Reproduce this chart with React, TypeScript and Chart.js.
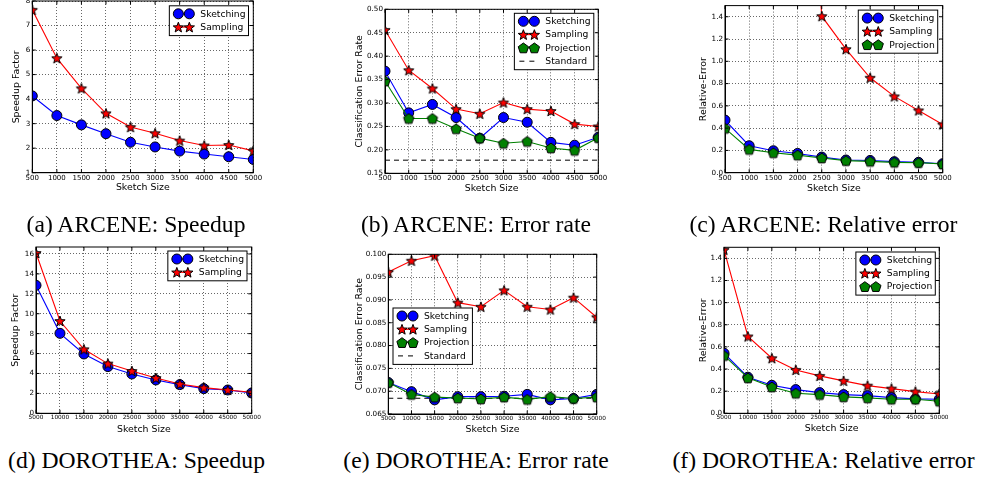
import React, { useEffect, useRef } from "react";
import { Chart, registerables } from "chart.js";

Chart.register(...registerables);

// ---------------- DATA ----------------
const arceneSizes = [500, 1000, 1500, 2000, 2500, 3000, 3500, 4000, 4500, 5000];
const dorotheaSizes = [5000, 10000, 15000, 20000, 25000, 30000, 35000, 40000, 45000, 50000];

const arceneSpeedupSketching = [4.13, 3.33, 2.95, 2.59, 2.24, 2.05, 1.88, 1.76, 1.65, 1.54];
const arceneSpeedupSampling = [7.64, 5.67, 4.44, 3.42, 2.86, 2.61, 2.31, 2.11, 2.13, 1.89];

const arceneErrSketching = [0.368, 0.279, 0.297, 0.269, 0.225, 0.269, 0.259, 0.216, 0.21, 0.227];
const arceneErrSampling = [0.456, 0.37, 0.331, 0.287, 0.277, 0.301, 0.287, 0.283, 0.255, 0.25];
const arceneErrProjection = [0.347, 0.267, 0.267, 0.245, 0.225, 0.214, 0.218, 0.204, 0.199, 0.226];
const arceneErrStandard = 0.178;

const arceneRelSketching = [0.472, 0.242, 0.197, 0.173, 0.14, 0.114, 0.11, 0.099, 0.093, 0.081];
const arceneRelSampling = [30, 15, 8, 4.5, 1.405, 1.109, 0.852, 0.685, 0.559, 0.433];
const arceneRelProjection = [0.398, 0.209, 0.179, 0.158, 0.132, 0.108, 0.102, 0.093, 0.09, 0.078];

const dorSpeedupSketching = [12.85, 8.03, 5.96, 4.69, 3.95, 3.35, 2.88, 2.48, 2.34, 2.04];
const dorSpeedupSampling = [16.1, 9.27, 6.43, 4.99, 4.25, 3.55, 2.95, 2.58, 2.34, 2.11];

const dorErrSketching = [0.0719, 0.0699, 0.0681, 0.0688, 0.0688, 0.0689, 0.0693, 0.0681, 0.0684, 0.0693];
const dorErrSampling = [0.0961, 0.0986, 0.0997, 0.0894, 0.0885, 0.0921, 0.0885, 0.0879, 0.0905, 0.0862];
const dorErrProjection = [0.0719, 0.0693, 0.0687, 0.0685, 0.0683, 0.0687, 0.0682, 0.0688, 0.0684, 0.0687];
const dorErrStandard = 0.06845;

const dorRelSketching = [0.543, 0.326, 0.253, 0.214, 0.187, 0.169, 0.16, 0.142, 0.13, 0.127];
const dorRelSampling = [1.478, 0.694, 0.498, 0.392, 0.338, 0.293, 0.25, 0.223, 0.196, 0.175];
const dorRelProjection = [0.522, 0.32, 0.238, 0.181, 0.169, 0.148, 0.139, 0.127, 0.127, 0.109];

const speedupTicksA = [1, 2, 3, 4, 5, 6, 7, 8];
const errTicksB = [0.15, 0.2, 0.25, 0.3, 0.35, 0.4, 0.45, 0.5];
const relTicks = [0, 0.2, 0.4, 0.6, 0.8, 1.0, 1.2, 1.4];
const speedupTicksD = [0, 2, 4, 6, 8, 10, 12, 14, 16];
const errTicksE = [0.065, 0.07, 0.075, 0.08, 0.085, 0.09, 0.095, 0.1];

const captions = [
  "(a) ARCENE: Speedup",
  "(b) ARCENE: Error rate",
  "(c) ARCENE: Relative error",
  "(d) DOROTHEA: Speedup",
  "(e) DOROTHEA: Error rate",
  "(f) DOROTHEA: Relative error",
];

// ---------------- STYLE ----------------
const BLUE = "#0000ff";
const RED = "#ff0000";
const GREEN = "#008000";
const SANS = "'DejaVu Sans', sans-serif";
const TICK_SIZE = 7.2;
const TITLE_SIZE = 9.4;
const LEGEND_SIZE = 9.2;
const TITLE_LH = TITLE_SIZE * 1.2;

type Kind = "circle" | "star" | "pentagon" | "dash";

function drawMarker(ctx: CanvasRenderingContext2D, kind: Kind, x: number, y: number, color: string) {
  ctx.save();
  ctx.fillStyle = color;
  ctx.strokeStyle = "#000";
  ctx.lineWidth = 1;
  ctx.beginPath();
  if (kind === "circle") {
    ctx.arc(x, y, 5, 0, Math.PI * 2);
  } else if (kind === "star") {
    const R = 5.4;
    const r = R * 0.42;
    for (let k = 0; k < 10; k++) {
      const rad = k % 2 ? r : R;
      const a = -Math.PI / 2 + (k * Math.PI) / 5;
      const px = x + rad * Math.cos(a);
      const py = y + rad * Math.sin(a) + 0.5;
      if (k === 0) ctx.moveTo(px, py);
      else ctx.lineTo(px, py);
    }
    ctx.closePath();
  } else if (kind === "pentagon") {
    const R = 5.4;
    for (let k = 0; k < 5; k++) {
      const a = -Math.PI / 2 + (k * 2 * Math.PI) / 5;
      const px = x + R * Math.cos(a);
      const py = y + R * Math.sin(a) + 0.5;
      if (k === 0) ctx.moveTo(px, py);
      else ctx.lineTo(px, py);
    }
    ctx.closePath();
  }
  ctx.fill();
  ctx.stroke();
  ctx.restore();
}

function markerImage(kind: Kind, color: string) {
  const c = document.createElement("canvas");
  c.width = 16;
  c.height = 16;
  const ctx = c.getContext("2d");
  if (ctx) drawMarker(ctx, kind, 8, 8, color);
  return c;
}

type Series = { label: string; kind: Kind; color: string; values?: number[]; constant?: number };

type PanelCfg = {
  xs: number[];
  xTickSize: number;
  series: Series[];
  yMin: number;
  yMax: number;
  yTicks: number[];
  yDecimals: number;
  yTitle: string;
  plot: [number, number, number, number]; // L, T, R, B
  yTitleX: number;
  xTitleY: number;
  legend: { corner: "ne" | "w"; dx: number; dy: number };
};

const panels: PanelCfg[] = [
  {
    xs: arceneSizes,
    xTickSize: 7,
    series: [
      { label: "Sketching", kind: "circle", color: BLUE, values: arceneSpeedupSketching },
      { label: "Sampling", kind: "star", color: RED, values: arceneSpeedupSampling },
    ],
    yMin: 1, yMax: 8, yTicks: speedupTicksA, yDecimals: 0, yTitle: "Speedup Factor",
    plot: [32.3, 1.0, 253.3, 172.7], yTitleX: 16.7, xTitleY: 187.7,
    legend: { corner: "ne", dx: 4.8, dy: 4.8 },
  },
  {
    xs: arceneSizes,
    xTickSize: 7,
    series: [
      { label: "Sketching", kind: "circle", color: BLUE, values: arceneErrSketching },
      { label: "Sampling", kind: "star", color: RED, values: arceneErrSampling },
      { label: "Projection", kind: "pentagon", color: GREEN, values: arceneErrProjection },
      { label: "Standard", kind: "dash", color: "#000", constant: arceneErrStandard },
    ],
    yMin: 0.15, yMax: 0.5, yTicks: errTicksB, yDecimals: 2, yTitle: "Classification Error Rate",
    plot: [385, 9.3, 598.3, 173.3], yTitleX: 360, xTitleY: 188.3,
    legend: { corner: "ne", dx: 4.5, dy: 4 },
  },
  {
    xs: arceneSizes,
    xTickSize: 7,
    series: [
      { label: "Sketching", kind: "circle", color: BLUE, values: arceneRelSketching },
      { label: "Sampling", kind: "star", color: RED, values: arceneRelSampling },
      { label: "Projection", kind: "pentagon", color: GREEN, values: arceneRelProjection },
    ],
    yMin: 0, yMax: 1.5, yTicks: relTicks, yDecimals: 1, yTitle: "Relative-Error",
    plot: [725, 5.6, 942.7, 172.7], yTitleX: 703.3, xTitleY: 188.3,
    legend: { corner: "ne", dx: 5, dy: 4.5 },
  },
  {
    xs: dorotheaSizes,
    xTickSize: 5.8,
    series: [
      { label: "Sketching", kind: "circle", color: BLUE, values: dorSpeedupSketching },
      { label: "Sampling", kind: "star", color: RED, values: dorSpeedupSampling },
    ],
    yMin: 0, yMax: 16.7, yTicks: speedupTicksD, yDecimals: 0, yTitle: "Speedup Factor",
    plot: [36, 247, 251.7, 413.3], yTitleX: 16, xTitleY: 429.3,
    legend: { corner: "ne", dx: 4.7, dy: 4 },
  },
  {
    xs: dorotheaSizes,
    xTickSize: 5.8,
    series: [
      { label: "Sketching", kind: "circle", color: BLUE, values: dorErrSketching },
      { label: "Sampling", kind: "star", color: RED, values: dorErrSampling },
      { label: "Projection", kind: "pentagon", color: GREEN, values: dorErrProjection },
      { label: "Standard", kind: "dash", color: "#000", constant: dorErrStandard },
    ],
    yMin: 0.065, yMax: 0.1, yTicks: errTicksE, yDecimals: 3, yTitle: "Classification Error Rate",
    plot: [388.3, 254.3, 596.7, 414], yTitleX: 360, xTitleY: 429.3,
    legend: { corner: "w", dx: 4.7, dy: 53.7 },
  },
  {
    xs: dorotheaSizes,
    xTickSize: 5.8,
    series: [
      { label: "Sketching", kind: "circle", color: BLUE, values: dorRelSketching },
      { label: "Sampling", kind: "star", color: RED, values: dorRelSampling },
      { label: "Projection", kind: "pentagon", color: GREEN, values: dorRelProjection },
    ],
    yMin: 0, yMax: 1.5, yTicks: relTicks, yDecimals: 1, yTitle: "Relative-Error",
    plot: [724, 247.3, 939.3, 413.3], yTitleX: 703.3, xTitleY: 429,
    legend: { corner: "ne", dx: 4, dy: 4.7 },
  },
];

const captionCenters = [136, 476, 823.5, 136.5, 476, 823.5];
const captionBaselines = [233, 233, 233, 469, 469, 469];

function Panel({ cfg }: { cfg: PanelCfg }) {
  const ref = useRef<HTMLCanvasElement | null>(null);
  const [L, T, R, B] = cfg.plot;
  const axisLeft = cfg.yTitleX - TITLE_LH / 2;
  const axisBottom = cfg.xTitleY + TITLE_LH / 2;
  const cLeft = Math.floor(axisLeft);
  const cTop = Math.floor(T - 12);
  const cRight = Math.ceil(R + 22);
  const cBottom = Math.ceil(axisBottom);
  const w = cRight - cLeft;
  const h = cBottom - cTop;

  useEffect(() => {
    const canvas = ref.current;
    if (!canvas) return;
    const xs = cfg.xs;
    const datasets: any[] = cfg.series.map((s, i) => {
      if (s.kind === "dash") {
        return {
          label: s.label,
          data: [
            { x: xs[0], y: s.constant },
            { x: xs[xs.length - 1], y: s.constant },
          ],
          borderColor: "#000",
          borderWidth: 1,
          borderDash: [5, 4],
          pointRadius: 0,
          clip: 0,
          order: 10,
        };
      }
      const vals = s.values || [];
      return {
        label: s.label,
        data: xs.map((x, j) => ({ x, y: vals[j] })),
        borderColor: s.color,
        borderWidth: 1.1,
        backgroundColor: s.color,
        pointStyle: s.kind === "circle" ? "circle" : markerImage(s.kind, s.color),
        pointRadius: s.kind === "circle" ? 5 : 6,
        pointBackgroundColor: s.color,
        pointBorderColor: "#000",
        pointBorderWidth: 1,
        tension: 0,
        clip: 0,
        order: 5 - i,
      };
    });

    const decor = {
      id: "mplDecor",
      afterDraw(chart: any) {
        const ctx: CanvasRenderingContext2D = chart.ctx;
        const a = chart.chartArea;
        const xScale = chart.scales.x;
        const yScale = chart.scales.y;
        ctx.save();
        ctx.strokeStyle = "#000";
        ctx.lineWidth = 1;
        ctx.strokeRect(a.left, a.top, a.right - a.left, a.bottom - a.top);
        const tl = 3.5;
        ctx.beginPath();
        for (const v of xs) {
          const px = xScale.getPixelForValue(v);
          ctx.moveTo(px, a.bottom);
          ctx.lineTo(px, a.bottom - tl);
          ctx.moveTo(px, a.top);
          ctx.lineTo(px, a.top + tl);
        }
        for (const v of cfg.yTicks) {
          const py = yScale.getPixelForValue(v);
          ctx.moveTo(a.left, py);
          ctx.lineTo(a.left + tl, py);
          ctx.moveTo(a.right, py);
          ctx.lineTo(a.right - tl, py);
        }
        ctx.stroke();
        // legend
        ctx.font = `${LEGEND_SIZE}px ${SANS}`;
        const n = cfg.series.length;
        let maxW = 0;
        for (const s of cfg.series) maxW = Math.max(maxW, ctx.measureText(s.label).width);
        const rowH = 13.3;
        const bw = 31 + maxW + 3;
        const bh = 8 + (n - 1) * rowH + 8.5;
        let bx: number, by: number;
        if (cfg.legend.corner === "ne") {
          bx = a.right - cfg.legend.dx - bw;
          by = a.top + cfg.legend.dy;
        } else {
          bx = a.left + cfg.legend.dx;
          by = a.top + cfg.legend.dy;
        }
        ctx.fillStyle = "#fff";
        ctx.fillRect(bx, by, bw, bh);
        ctx.strokeStyle = "#000";
        ctx.lineWidth = 1;
        ctx.strokeRect(bx, by, bw, bh);
        cfg.series.forEach((s, i) => {
          const cy = by + 8 + i * rowH;
          const x1 = bx + 9;
          const x2 = bx + 20;
          ctx.save();
          if (s.kind === "dash") {
            ctx.strokeStyle = "#000";
            ctx.lineWidth = 1;
            ctx.setLineDash([5, 5]);
            ctx.beginPath();
            ctx.moveTo(bx + 5, cy);
            ctx.lineTo(bx + 24, cy);
            ctx.stroke();
          } else {
            ctx.strokeStyle = s.color;
            ctx.lineWidth = 1.1;
            ctx.beginPath();
            ctx.moveTo(x1, cy);
            ctx.lineTo(x2, cy);
            ctx.stroke();
            drawMarker(ctx, s.kind, x1, cy, s.color);
            drawMarker(ctx, s.kind, x2, cy, s.color);
          }
          ctx.restore();
          ctx.fillStyle = "#000";
          ctx.font = `${LEGEND_SIZE}px ${SANS}`;
          ctx.textBaseline = "middle";
          ctx.textAlign = "left";
          ctx.fillText(s.label, bx + 31, cy + 0.5);
        });
        ctx.restore();
      },
    };

    const gridOpts = { color: "rgba(0,0,0,0.75)", lineWidth: 0.8, drawTicks: false };
    const borderOpts = { display: true, color: "#000", width: 1, dash: [1, 2] };

    const chart = new Chart(canvas, {
      type: "line",
      data: { datasets },
      options: {
        responsive: false,
        animation: false,
        events: [],
        layout: {
          padding: {
            left: axisLeft - cLeft,
            top: T - cTop,
            right: cRight - R,
            bottom: cBottom - axisBottom,
          },
        },
        plugins: {
          legend: { display: false },
          tooltip: { enabled: false },
          title: { display: false },
        },
        scales: {
          x: {
            type: "linear",
            min: xs[0],
            max: xs[xs.length - 1],
            afterBuildTicks: (s: any) => {
              s.ticks = xs.map((v) => ({ value: v }));
            },
            afterFit: (s: any) => {
              s.height = axisBottom - B;
            },
            ticks: {
              autoSkip: false,
              maxRotation: 0,
              minRotation: 0,
              padding: 1,
              color: "#000",
              font: { family: SANS, size: cfg.xTickSize },
              callback: (v: any) => String(v),
            },
            grid: gridOpts,
            border: borderOpts,
            title: {
              display: true,
              text: "Sketch Size",
              color: "#000",
              padding: 0,
              font: { family: SANS, size: TITLE_SIZE, lineHeight: 1.2 },
            },
          },
          y: {
            type: "linear",
            min: cfg.yMin,
            max: cfg.yMax,
            afterBuildTicks: (s: any) => {
              s.ticks = cfg.yTicks.map((v) => ({ value: v }));
            },
            afterFit: (s: any) => {
              s.width = L - axisLeft;
            },
            ticks: {
              autoSkip: false,
              padding: 2,
              color: "#000",
              font: { family: SANS, size: TICK_SIZE },
              callback: (v: any) => Number(v).toFixed(cfg.yDecimals),
            },
            grid: gridOpts,
            border: borderOpts,
            title: {
              display: true,
              text: cfg.yTitle,
              color: "#000",
              padding: 0,
              font: { family: SANS, size: TITLE_SIZE, lineHeight: 1.2 },
            },
          },
        },
      } as any,
      plugins: [decor as any],
    });
    return () => chart.destroy();
  }, []);

  return (
    <canvas
      ref={ref}
      width={w}
      height={h}
      style={{ position: "absolute", left: cLeft, top: cTop, width: w, height: h }}
    />
  );
}

export default function App() {
  const capSize = 23.6;
  return (
    <div
      style={{
        position: "absolute",
        left: 0,
        top: 0,
        width: 981,
        height: 482,
        overflow: "hidden",
        background: "#fff",
      }}
    >
      {panels.map((p, i) => (
        <Panel key={i} cfg={p} />
      ))}
      {captions.map((c, i) => (
        <div
          key={"c" + i}
          style={{
            position: "absolute",
            left: captionCenters[i] - 200,
            width: 400,
            top: captionBaselines[i] - 19.7,
            textAlign: "center",
            fontFamily: "'Liberation Serif', 'Times New Roman', serif",
            fontSize: capSize,
            lineHeight: `${capSize}px`,
            whiteSpace: "nowrap",
            color: "#000",
          }}
        >
          {c}
        </div>
      ))}
    </div>
  );
}
